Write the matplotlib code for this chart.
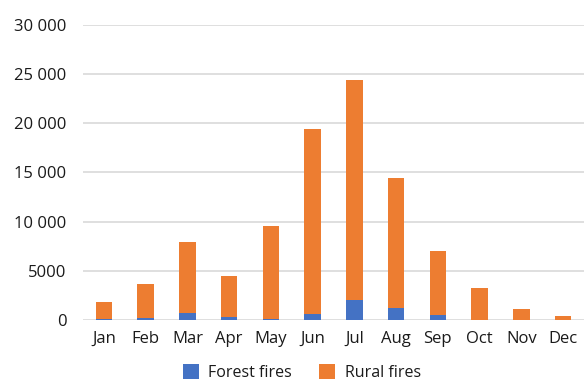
import matplotlib
matplotlib.use("Agg")
import matplotlib.pyplot as plt
from matplotlib.ticker import FuncFormatter

months = ["Jan", "Feb", "Mar", "Apr", "May", "Jun", "Jul", "Aug", "Sep", "Oct", "Nov", "Dec"]
forest = [100, 200, 740, 300, 100, 640, 2070, 1250, 480, 50, 20, 10]
totals = [1860, 3630, 7900, 4480, 9600, 19430, 24450, 14480, 7050, 3250, 1090, 400]
rural = [t - f for t, f in zip(totals, forest)]

blue = "#4472C4"
orange = "#ED7D31"

plt.rcParams["font.family"] = ["Open Sans", "DejaVu Sans"]

fig = plt.figure(figsize=(5.84, 3.82), dpi=100)
ax = fig.add_axes([83 / 584, 1 - 320 / 382, 501 / 584, 295 / 382])

x = range(len(months))
ax.bar(x, forest, width=0.39, color=blue, label="Forest fires", zorder=3)
ax.bar(x, rural, width=0.39, bottom=forest, color=orange, label="Rural fires", zorder=3)

ax.set_xlim(-0.5, 11.5)
ax.set_ylim(0, 30000)
ax.set_yticks(range(0, 30001, 5000))

def fmt(v, pos):
    v = int(v)
    if v < 10000:
        return str(v)
    return f"{v:,}".replace(",", " ")

ax.yaxis.set_major_formatter(FuncFormatter(fmt))
ax.set_xticks(list(x))
ax.set_xticklabels(months)
ax.tick_params(axis="both", length=0, labelsize=12, colors="#1a1a1a")
ax.tick_params(axis="y", pad=12)
ax.tick_params(axis="x", pad=8)

ax.grid(axis="y", color="#d9d9d9", linewidth=1.2, zorder=0)
for s in ax.spines.values():
    s.set_visible(False)

fig.legend(loc="lower center", bbox_to_anchor=(0.517, -0.035), ncol=2, frameon=False,
           fontsize=11.5, handlelength=1.0, handleheight=1.0, columnspacing=1.7,
           handletextpad=0.6, labelcolor="#1a1a1a")

fig.savefig("out.png", dpi=100, facecolor="white")
